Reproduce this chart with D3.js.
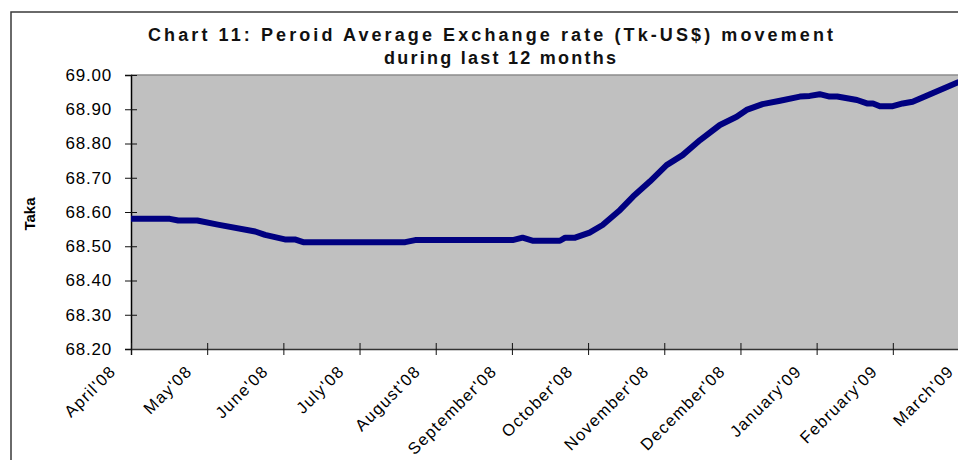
<!DOCTYPE html>
<html>
<head>
<meta charset="utf-8">
<script src="https://cdn.jsdelivr.net/npm/d3@7"></script>
<style>
  body { margin: 0; background: #fff; }
  text { font-family: Arial, "Liberation Sans", sans-serif; }
</style>
</head>
<body>
<div id="chart"></div>
<script>
// month labels (one per tick)
const months = ["April'08", "May'08", "June'08", "July'08", "August'08", "September'08",
  "October'08", "November'08", "December'08", "January'09", "February'09", "March'09"];

// position along the axis in months since April'08, and the period average rate
const monthPos = [0, 0.51, 0.62, 0.87, 1.14, 1.63, 1.76, 2.02, 2.15, 2.26, 3.0, 3.6,
  3.73, 4.32, 5.01, 5.14, 5.28, 5.63, 5.70, 5.83, 6.02, 6.19, 6.42, 6.59, 6.81,
  7.03, 7.24, 7.47, 7.73, 7.95, 8.08, 8.29, 8.52, 8.78, 8.91, 9.04, 9.17, 9.27,
  9.53, 9.66, 9.74, 9.83, 10.0, 10.13, 10.26, 10.52, 10.85, 11.0];
const rate = [68.58, 68.58, 68.575, 68.575, 68.563, 68.543, 68.533, 68.52, 68.52, 68.512, 68.512, 68.512,
  68.518, 68.518, 68.518, 68.525, 68.516, 68.516, 68.525, 68.525, 68.54, 68.562, 68.606, 68.645, 68.689,
  68.737, 68.766, 68.81, 68.854, 68.878, 68.898, 68.915, 68.925, 68.937, 68.939, 68.944, 68.937, 68.937,
  68.927, 68.917, 68.917, 68.909, 68.909, 68.917, 68.922, 68.947, 68.978, 68.99];

const yTicks = [68.2, 68.3, 68.4, 68.5, 68.6, 68.7, 68.8, 68.9, 69.0];

const W = 958, H = 460;
const plot = {left: 131, top: 75, right: 969, bottom: 349};

const svg = d3.select("#chart").append("svg")
  .attr("width", W)
  .attr("height", H);

// outer chart border (cut off at right and bottom)
svg.append("rect")
  .attr("x", 11).attr("y", 12)
  .attr("width", W + 20).attr("height", H + 20)
  .attr("fill", "none")
  .attr("stroke", "#3a3a3a")
  .attr("stroke-width", 1.5);

const x = d3.scaleLinear().domain([0, 11]).range([plot.left, plot.right]);
const y = d3.scaleLinear().domain([68.2, 69.0]).range([plot.bottom, plot.top]);

// plot area
svg.append("rect")
  .attr("x", plot.left).attr("y", plot.top)
  .attr("width", plot.right - plot.left + 40)
  .attr("height", plot.bottom - plot.top)
  .attr("fill", "#c0c0c0");
svg.append("line")
  .attr("x1", plot.left).attr("x2", W)
  .attr("y1", plot.top).attr("y2", plot.top)
  .attr("stroke", "#8c8c8c").attr("stroke-width", 1.5);

// title
const title = svg.append("g").attr("font-weight", "bold").attr("font-size", 18).attr("fill", "#111");
title.append("text")
  .attr("x", 148).attr("y", 41)
  .attr("textLength", 685).attr("lengthAdjust", "spacing")
  .text("Chart 11: Peroid Average Exchange rate (Tk-US$) movement");
title.append("text")
  .attr("x", 384).attr("y", 64)
  .attr("textLength", 232).attr("lengthAdjust", "spacing")
  .text("during last 12 months");

// Y axis
const yAxis = svg.append("g")
  .attr("transform", `translate(${plot.left},0)`)
  .call(d3.axisLeft(y).tickValues(yTicks).tickFormat(d3.format(".2f")).tickSize(6).tickPadding(13));
yAxis.select(".domain").attr("stroke", "#000").attr("stroke-width", 1.5);
yAxis.selectAll(".tick line").attr("x2", 6).attr("x1", -6).attr("stroke", "#111");
yAxis.selectAll(".tick text")
  .attr("font-size", 17)
  .attr("font-family", "Arial, 'Liberation Sans', sans-serif")
  .attr("letter-spacing", "0.8px")
  .attr("fill", "#000");

// X axis
const xAxis = svg.append("g")
  .attr("transform", `translate(0,${plot.bottom})`)
  .call(d3.axisBottom(x).tickValues(d3.range(months.length)).tickFormat(i => months[i]).tickSize(6));
xAxis.select(".domain").attr("stroke", "#333").attr("stroke-width", 1.5);
xAxis.selectAll(".tick line").attr("y1", -6).attr("y2", 6).attr("stroke", "#111");
xAxis.selectAll(".tick text")
  .attr("font-size", 16.5)
  .attr("font-family", "Arial, 'Liberation Sans', sans-serif")
  .attr("letter-spacing", "1.3px")
  .attr("fill", "#000")
  .attr("text-anchor", "end")
  .attr("dy", "0.35em")
  .attr("transform", "translate(-25,13) rotate(-45)");

// y axis title
svg.append("text")
  .attr("transform", "translate(35,214) rotate(-90)")
  .attr("text-anchor", "middle")
  .attr("font-size", 15)
  .attr("font-weight", "bold")
  .text("Taka");

// the series line
const pts = monthPos.map((m, i) => [m, rate[i]]);
svg.append("path")
  .datum(pts)
  .attr("d", d3.line().x(d => x(d[0])).y(d => y(d[1])))
  .attr("fill", "none")
  .attr("stroke", "#000080")
  .attr("stroke-width", 6)
  .attr("stroke-linejoin", "round");
</script>
</body>
</html>
